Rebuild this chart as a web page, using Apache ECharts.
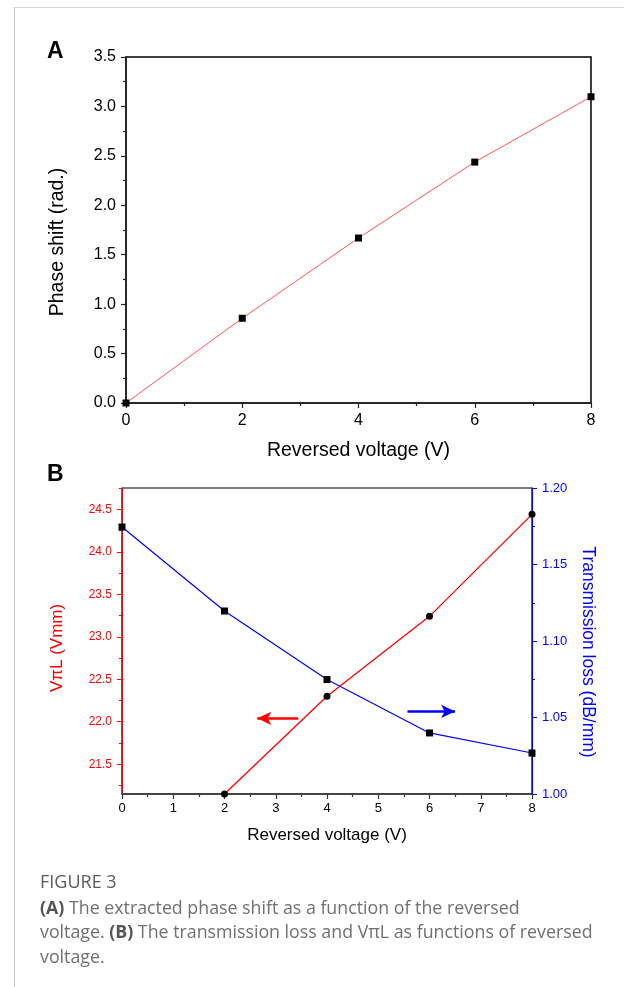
<!DOCTYPE html>
<html>
<head>
<meta charset="utf-8">
<script src="https://cdn.jsdelivr.net/npm/echarts@6/dist/echarts.min.js"></script>
<style>
  html, body { margin: 0; padding: 0; background: #fff; }
  #page { position: relative; width: 624px; height: 987px; overflow: hidden; }
  #frameTop { position: absolute; left: 14px; top: 7px; width: 610px; height: 1px; background: #d4d4d4; }
  #frameLeft { position: absolute; left: 14px; top: 7px; width: 1px; height: 980px; background: #c8c8c8; }
  #chart { position: absolute; left: 0; top: 0; width: 624px; height: 870px; }
  #caption { position: absolute; left: 40px; top: 869px; width: 584px;
    font-family: 'Open Sans', sans-serif; font-size: 17.8px; line-height: 24.5px; color: #707070; }
  #caption .fig { color: #5a5a5a; font-size: 18px; margin-bottom: 1px; }
  #caption b { color: #555; }
</style>
</head>
<body>
<div id="page">
  <div id="frameTop"></div>
  <div id="frameLeft"></div>
  <div id="chart"></div>
  <div id="caption">
    <div class="fig">FIGURE 3</div>
    <div><b>(A)</b> The extracted phase shift as a function of the reversed<br>voltage. <b>(B)</b> The transmission loss and VπL as functions of reversed<br>voltage.</div>
  </div>
</div>
<script>
  // panel A: phase shift vs reversed voltage
  var voltageA = [0, 2, 4, 6, 8]
  var phaseShift = [0, 0.857, 1.669, 2.437, 3.098]

  // panel B: VπL (left axis) and transmission loss (right axis)
  var voltageVpiL = [2, 4, 6, 8]
  var vpiL = [21.15, 22.30, 23.24, 24.44]
  var voltageLoss = [0, 2, 4, 6, 8]
  var transLoss = [1.1745, 1.1196, 1.0748, 1.0399, 1.0268]

  // tick values of the left axis in panel B
  var vpiLMajorTicks = [21.5, 22.0, 22.5, 23.0, 23.5, 24.0, 24.5]
  var vpiLMinorTicks = [21.25, 21.75, 22.25, 22.75, 23.25, 23.75, 24.25, 24.75]

  // arrows pointing to the respective axes
  var redArrow = [[3.44, 22.04], [2.64, 22.04]]
  var blueArrow = [[5.57, 1.054], [6.5, 1.054]]

  function pairs(xs, ys) {
    return xs.map(function (x, i) { return [x, ys[i]] })
  }

  var FONT = 'Liberation Sans, Arial, sans-serif'

  var chart = echarts.init(document.getElementById('chart'), null, { renderer: 'canvas' })

  // rotated axis titles, placed as plain text
  function axisTitle(text, x, y, size, color, rot) {
    return {
      type: 'text', x: x, y: y, rotation: rot,
      style: { text: text, font: size + 'px ' + FONT, fill: color, align: 'center', verticalAlign: 'middle' }
    }
  }

  chart.setOption({
    animation: false,
    textStyle: { fontFamily: FONT },
    graphic: [
      { type: 'text', left: 47, top: 40, style: { text: 'A', font: 'bold 23px ' + FONT, fill: '#000' } },
      { type: 'text', left: 47, top: 463, style: { text: 'B', font: 'bold 23px ' + FONT, fill: '#000' } },
      axisTitle('Phase shift (rad.)', 58, 242, 19.5, '#000', Math.PI / 2),
      axisTitle('VπL (Vmm)', 57, 648, 17, '#ff0000', Math.PI / 2),
      axisTitle('Transmission loss (dB/mm)', 588, 652, 17.5, '#0000ff', -Math.PI / 2)
    ],
    grid: [
      { left: 126, top: 57, width: 465, height: 346, show: true, borderColor: '#000', borderWidth: 1.5 },
      { left: 122, top: 488, width: 410, height: 306, show: true, borderColor: '#000', borderWidth: 1.2 }
    ],
    xAxis: [
      {
        gridIndex: 0,
        type: 'value',
        min: 0,
        max: 8,
        interval: 2,
        name: 'Reversed voltage (V)',
        nameLocation: 'middle',
        nameGap: 38,
        nameTextStyle: { fontSize: 19.5, color: '#000', fontFamily: FONT },
        axisLine: { lineStyle: { color: '#222', width: 1.5 } },
        axisTick: { length: 5, lineStyle: { color: '#222', width: 1.2 } },
        minorTick: { show: true, splitNumber: 2, length: 3, lineStyle: { color: '#222', width: 1.2 } },
        axisLabel: { fontSize: 16, color: '#000', margin: 10 },
        splitLine: { show: false }
      },
      {
        gridIndex: 1,
        type: 'value',
        min: 0,
        max: 8,
        interval: 1,
        name: 'Reversed voltage (V)',
        nameLocation: 'middle',
        nameGap: 33,
        nameTextStyle: { fontSize: 17, color: '#000', fontFamily: FONT },
        axisLine: { lineStyle: { color: '#333', width: 1.5 } },
        axisTick: { length: 5, lineStyle: { color: '#333', width: 1.2 } },
        minorTick: { show: true, splitNumber: 2, length: 3, lineStyle: { color: '#333', width: 1.2 } },
        axisLabel: { fontSize: 13, color: '#000', margin: 8 },
        splitLine: { show: false }
      }
    ],
    yAxis: [
      {
        gridIndex: 0,
        type: 'value',
        position: 'left',
        min: 0,
        max: 3.5,
        interval: 0.5,
        axisLine: { show: true, lineStyle: { color: '#222', width: 1.5 } },
        axisTick: { show: true, length: 5, lineStyle: { color: '#222', width: 1.2 } },
        minorTick: { show: true, splitNumber: 2, length: 3, lineStyle: { color: '#222', width: 1.2 } },
        axisLabel: { fontSize: 16, color: '#000', margin: 10, formatter: function (v) { return v.toFixed(1) } },
        splitLine: { show: false }
      },
      {
        gridIndex: 1,
        type: 'value',
        position: 'left',
        min: 21.15,
        max: 24.75,
        axisLine: { show: true, lineStyle: { color: '#ff0000', width: 1.2 } },
        axisTick: { show: true, length: 5, customValues: vpiLMajorTicks, lineStyle: { color: '#ff0000', width: 1 } },
        axisLabel: { fontSize: 12, color: '#ff0000', margin: 10, customValues: vpiLMajorTicks,
          formatter: function (v) { return v.toFixed(1) } },
        splitLine: { show: false }
      },
      {
        gridIndex: 1,
        type: 'value',
        position: 'right',
        min: 1.0,
        max: 1.2,
        interval: 0.05,
        axisLine: { show: true, lineStyle: { color: '#0000ff', width: 1.2 } },
        axisTick: { show: true, length: 5, lineStyle: { color: '#0000ff', width: 1 } },
        minorTick: { show: true, splitNumber: 2, length: 3, lineStyle: { color: '#0000ff', width: 1 } },
        axisLabel: { fontSize: 13, color: '#0000ff', margin: 10, formatter: function (v) { return v.toFixed(2) } },
        splitLine: { show: false }
      },
      {
        // minor ticks of the left axis in panel B
        gridIndex: 1,
        type: 'value',
        position: 'left',
        min: 21.15,
        max: 24.75,
        axisLine: { show: false },
        axisTick: { show: true, length: 3, customValues: vpiLMinorTicks, lineStyle: { color: '#ff0000', width: 1 } },
        axisLabel: { show: false },
        splitLine: { show: false }
      }
    ],
    series: [
      {
        name: 'Phase shift',
        type: 'line',
        xAxisIndex: 0,
        yAxisIndex: 0,
        data: pairs(voltageA, phaseShift),
        symbol: 'rect',
        symbolSize: 7,
        itemStyle: { color: '#000' },
        lineStyle: { color: '#ff5555', width: 1 },
        z: 3
      },
      {
        name: 'VπL',
        type: 'line',
        xAxisIndex: 1,
        yAxisIndex: 1,
        data: pairs(voltageVpiL, vpiL),
        symbol: 'circle',
        symbolSize: 7,
        itemStyle: { color: '#000' },
        lineStyle: { color: '#ff0000', width: 1.3 },
        markLine: {
          silent: true,
          symbol: ['none', 'arrow'],
          symbolSize: [10, 14],
          label: { show: false },
          lineStyle: { color: '#ff0000', width: 2.5, type: 'solid' },
          data: [[{ coord: redArrow[0] }, { coord: redArrow[1] }]]
        },
        z: 3
      },
      {
        name: 'Transmission loss',
        type: 'line',
        xAxisIndex: 1,
        yAxisIndex: 2,
        data: pairs(voltageLoss, transLoss),
        symbol: 'rect',
        symbolSize: 7,
        itemStyle: { color: '#000' },
        lineStyle: { color: '#0000ff', width: 1.2 },
        markLine: {
          silent: true,
          symbol: ['none', 'arrow'],
          symbolSize: [10, 14],
          label: { show: false },
          lineStyle: { color: '#0000ff', width: 2.5, type: 'solid' },
          data: [[{ coord: blueArrow[0] }, { coord: blueArrow[1] }]]
        },
        z: 3
      }
    ]
  })
</script>
</body>
</html>
